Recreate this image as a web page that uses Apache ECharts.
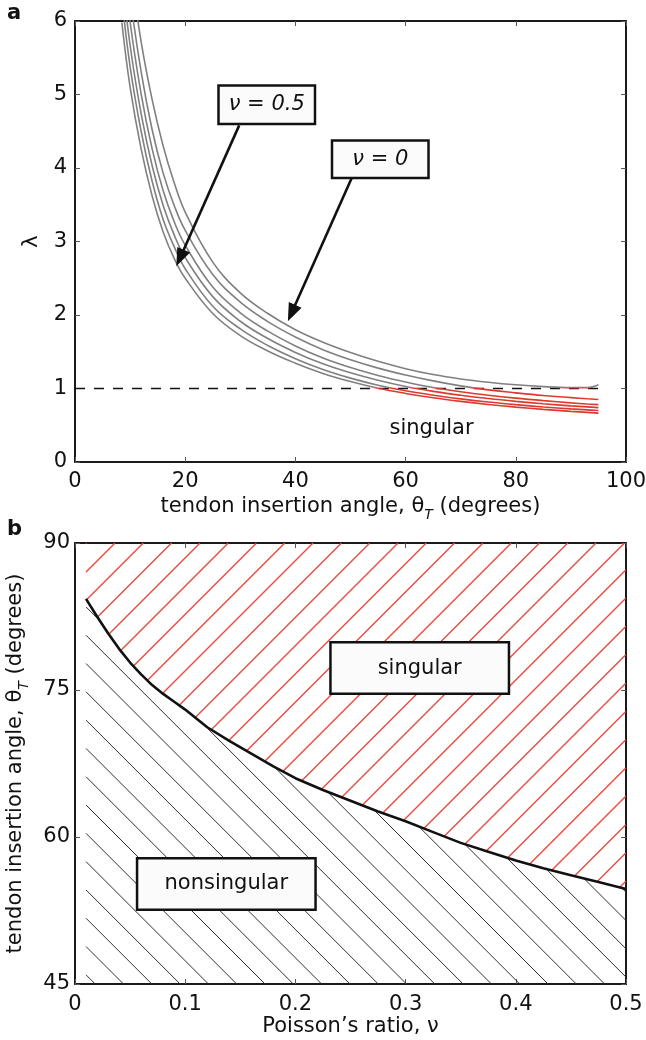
<!DOCTYPE html>
<html><head><meta charset="utf-8">
<script src="https://cdn.jsdelivr.net/npm/echarts@6/dist/echarts.min.js"></script>
<style>html,body{margin:0;padding:0;background:#fff}#c{width:646px;height:1040px}</style>
</head><body><div id="c"></div>
<script>
// ---------- DATA ----------
const thetaGrid = [8.5,10,12,14,16,18,20,25,30,35,40,45,50,55,60,65,70,75,80,85,90,93,95];
const lambdaNu00 = [7.7,6.75,5.72,4.93,4.3,3.8,3.4,2.72,2.3,2.02,1.80,1.63,1.49,1.37,1.27,1.19,1.13,1.085,1.05,1.025,1.012,1.012,1.05];
const lambdaNu01 = [7.43,6.34,5.31,4.52,3.93,3.49,3.15,2.55,2.175,1.91,1.70,1.527,1.39,1.277,1.184,1.104,1.036,0.981,0.941,0.905,0.876,0.86,0.85];
const lambdaNu02 = [7.03,5.99,5.01,4.26,3.69,3.27,2.95,2.38,2.03,1.78,1.579,1.415,1.285,1.178,1.089,1.013,0.956,0.909,0.869,0.835,0.805,0.789,0.78];
const lambdaNu03 = [6.65,5.67,4.74,4.03,3.49,3.09,2.78,2.25,1.915,1.68,1.491,1.336,1.213,1.111,1.027,0.961,0.908,0.863,0.825,0.792,0.764,0.75,0.74];
const lambdaNu04 = [6.31,5.38,4.5,3.82,3.3,2.93,2.63,2.12,1.81,1.585,1.406,1.259,1.141,1.045,0.969,0.909,0.859,0.816,0.78,0.749,0.723,0.709,0.70];
const lambdaNu05 = [5.98,5.1,4.26,3.62,3.13,2.77,2.5,2.02,1.72,1.51,1.344,1.205,1.094,1.003,0.933,0.874,0.825,0.783,0.747,0.716,0.689,0.675,0.665];
const lambdaSets = [lambdaNu00,lambdaNu01,lambdaNu02,lambdaNu03,lambdaNu04,lambdaNu05];
const thresholdTheta = [0, 95];
const thresholdLambda = [1, 1];

const boundaryNu = [0.01,0.02,0.03,0.04,0.05,0.06,0.07,0.08,0.09,0.10,0.12,0.14,0.16,0.18,0.20,0.225,0.25,0.275,0.30,0.325,0.35,0.375,0.40,0.425,0.45,0.475,0.50];
const boundaryTheta = [84.3,82.5,80.8,79.2,77.8,76.6,75.5,74.6,73.8,73.0,71.2,69.8,68.5,67.2,66.0,64.8,63.7,62.6,61.6,60.5,59.4,58.5,57.6,56.8,56.1,55.4,54.7];

const labelsA = [
  {text:'ν = 0.5', at:[34.8,4.86], box:[97,39]},
  {text:'ν = 0',   at:[55.4,4.12], box:[97,38]}
];
const arrowsA = [
  {from:[29.8,4.58], to:[19.06,2.776]},
  {from:[50.2,3.86], to:[39.3,2.027]}
];
const singularA = {text:'singular', at:[64.7,0.45]};
const labelsB = [
  {text:'singular',    at:[0.3128,77.24], box:[179,52]},
  {text:'nonsingular', at:[0.1373,55.2],  box:[179,52]}
];

// ---------- STYLE ----------
const FONT = "'DejaVu Sans', 'Liberation Sans', Arial, sans-serif";
const HATCH_STEP = 28.3;
const RED_HATCH = '#ec4b40';
const BLACK_HATCH = '#303030';

function axis(o){
  return Object.assign({
    type:'value',
    axisLine:{show:true, onZero:false, lineStyle:{color:'#1a1a1a', width:2}},
    axisTick:{show:true, inside:true, length:5, lineStyle:{color:'#555', width:1}},
    splitLine:{show:false},
    axisLabel:{show:true, color:'#111', fontSize:21, fontFamily:FONT},
    nameTextStyle:{color:'#111', fontFamily:FONT}
  }, o);
}
function secondary(o){
  return axis(Object.assign({axisLabel:{show:false}}, o));
}
const richName = {
  a:{fontSize:21, fontFamily:FONT, color:'#111', lineHeight:30},
  s:{fontSize:14, fontFamily:FONT, fontStyle:'italic', color:'#111', lineHeight:30, verticalAlign:'bottom'}
};
const angleName = '{a|tendon insertion angle, θ}{s|T}{a| (degrees)}';

function boxLabel(l, italic){
  return {
    coord:l.at, symbol:'rect', symbolSize:[1,1],
    itemStyle:{color:'rgba(0,0,0,0)', borderWidth:0},
    label:{
      show:true, position:'inside', formatter:l.text,
      color:'#111', fontSize:21, fontFamily:FONT, fontStyle: italic ? 'italic' : 'normal',
      backgroundColor:'#fbfbfb', borderColor:'#111', borderWidth:2.5,
      width:l.box[0] - 3, height:l.box[1] - 3, lineHeight:l.box[1] - 3,
      align:'center', verticalAlign:'middle', padding:0
    }
  };
}

const chart = echarts.init(document.getElementById('c'), null, {renderer:'canvas'});
const series = [];
lambdaSets.forEach((arr) => {
  series.push({
    type:'line', xAxisIndex:0, yAxisIndex:0, symbol:'none', smooth:0.4,
    lineStyle:{width:1.6}, z:3, silent:true,
    data: thetaGrid.map((t, j) => [t, arr[j]])
  });
});
series.push({
  type:'line', xAxisIndex:0, yAxisIndex:0, symbol:'none', z:2, silent:true,
  lineStyle:{color:'#111', width:1.4, type:[10,9]},
  data: thresholdTheta.map((t, j) => [t, thresholdLambda[j]]),
  markLine:{
    silent:true, animation:false, symbol:['none','triangle'], symbolSize:[14,18],
    lineStyle:{color:'#111', width:2.6, type:'solid'}, label:{show:false},
    data: arrowsA.map(a => [{coord:a.from}, {coord:a.to}])
  },
  markPoint:{
    silent:true, animation:false,
    data: labelsA.map(l => boxLabel(l, true)).concat([{
      coord:singularA.at, symbol:'rect', symbolSize:[1,1],
      itemStyle:{color:'rgba(0,0,0,0)', borderWidth:0},
      label:{show:true, position:'inside', formatter:singularA.text, color:'#111', fontSize:21, fontFamily:FONT}
    }])
  }
});
series.push({
  type:'line', xAxisIndex:2, yAxisIndex:2, symbol:'none', smooth:false, silent:true,
  lineStyle:{width:2.6, color:'#111'}, z:3,
  data: boundaryNu.map((v, j) => [v, boundaryTheta[j]]),
  markPoint:{
    silent:true, animation:false,
    data: labelsB.map(l => boxLabel(l, false))
  }
});

chart.setOption({
  animation:false,
  backgroundColor:'#fff',
  textStyle:{fontFamily:FONT},
  grid:[
    {left:75, top:21, width:551, height:441, outerBoundsMode:'none', containLabel:false},
    {left:75, top:543, width:551, height:441, outerBoundsMode:'none', containLabel:false}
  ],
  xAxis:[
    axis({gridIndex:0, position:'bottom', min:0, max:100, interval:20,
      name:angleName, nameLocation:'middle', nameGap:30,
      nameTextStyle:{rich:richName}, axisLabel:{color:'#111', fontSize:21, fontFamily:FONT, margin:9}}),
    secondary({gridIndex:0, position:'top', min:0, max:100, interval:20}),
    axis({gridIndex:1, position:'bottom', min:0, max:0.5, interval:0.1,
      name:'Poisson’s ratio, ν', nameLocation:'middle', nameGap:31,
      nameTextStyle:{color:'#111', fontSize:21, fontFamily:FONT}, axisLabel:{color:'#111', fontSize:21, fontFamily:FONT, margin:10}}),
    secondary({gridIndex:1, position:'top', min:0, max:0.5, interval:0.1})
  ],
  yAxis:[
    axis({gridIndex:0, position:'left', min:0, max:6, interval:1,
      name:'λ', nameLocation:'middle', nameGap:33, nameRotate:90,
      nameTextStyle:{color:'#111', fontSize:21, fontFamily:FONT}, axisLabel:{color:'#111', fontSize:21, fontFamily:FONT, margin:8}}),
    secondary({gridIndex:0, position:'right', min:0, max:6, interval:1}),
    axis({gridIndex:1, position:'left', min:45, max:90, interval:15,
      name:angleName, nameLocation:'middle', nameGap:44, nameRotate:90,
      nameTextStyle:{rich:richName}, axisLabel:{color:'#111', fontSize:21, fontFamily:FONT, margin:5}}),
    secondary({gridIndex:1, position:'right', min:45, max:90, interval:15})
  ],
  visualMap:{
    type:'piecewise', show:false, seriesIndex:[0,1,2,3,4,5], dimension:1,
    pieces:[{min:-1, max:1, color:'#dc3a2e'}, {min:1, max:20, color:'#808080'}]
  },
  graphic:[
    {type:'text', left:7, top:3, style:{text:'a', fill:'#111', font:'bold 21px ' + FONT}},
    {type:'text', left:7, top:519, style:{text:'b', fill:'#111', font:'bold 21px ' + FONT}}
  ],
  series: series
});

// ---------- hatching: segments clipped to the regions above (red) / below (black) the boundary ----------
function hatchData(which){
  const finder = {xAxisIndex:2, yAxisIndex:2};
  const P = v => chart.convertToPixel(finder, v);
  const D = p => chart.convertFromPixel(finder, p);
  const pts = boundaryNu.map((v, j) => P([v, boundaryTheta[j]]));
  const yTop = P([0, 90])[1], yBot = P([0, 45])[1];
  const x0 = pts[0][0], x1 = pts[pts.length - 1][0];
  const yc = x => {
    for (let i = 1; i < pts.length; i++) {
      if (x <= pts[i][0]) {
        const t = (x - pts[i-1][0]) / (pts[i][0] - pts[i-1][0]);
        return pts[i-1][1] + t * (pts[i][1] - pts[i-1][1]);
      }
    }
    return pts[pts.length - 1][1];
  };
  const segs = [];
  const step = 0.25;
  const scan = (c, yOf, okFn) => {
    let inside = false, xs = 0, last = 0;
    for (let x = x0; x <= x1 + 1e-6; x += step) {
      const ok = okFn(x, yOf(x));
      if (ok) { if (!inside) { inside = true; xs = x; } last = x; }
      else if (inside) { inside = false; if (last > xs) segs.push([xs, yOf(xs), last, yOf(last)]); }
    }
    if (inside && last > xs) segs.push([xs, yOf(xs), last, yOf(last)]);
  };
  if (which === 'red') {
    const cStart = 658 - Math.ceil((658 - (x0 + yTop)) / HATCH_STEP) * HATCH_STEP;
    for (let c = cStart; c <= x1 + yBot + 1; c += HATCH_STEP)
      scan(c, x => c - x, (x, y) => y >= yTop && y <= yc(x));
  } else {
    const cStart = 690.7 - Math.ceil((690.7 - (yTop - x1)) / HATCH_STEP) * HATCH_STEP;
    for (let c = cStart; c <= yBot - x0 + 1; c += HATCH_STEP)
      scan(c, x => x + c, (x, y) => y <= yBot && y >= yc(x));
  }
  const out = [];
  segs.forEach(s => { out.push(D([s[0], s[1]]), D([s[2], s[3]]), [NaN, NaN]); });
  return out;
}
const hatchSeries = [
  {type:'line', xAxisIndex:2, yAxisIndex:2, symbol:'none', smooth:false, silent:true, connectNulls:false, z:1,
   lineStyle:{width:1.4, color:RED_HATCH}, data: hatchData('red')},
  {type:'line', xAxisIndex:2, yAxisIndex:2, symbol:'none', smooth:false, silent:true, connectNulls:false, z:1,
   lineStyle:{width:1, color:BLACK_HATCH}, data: hatchData('black')}
];
chart.setOption({series: series.concat(hatchSeries)});
</script></body></html>
